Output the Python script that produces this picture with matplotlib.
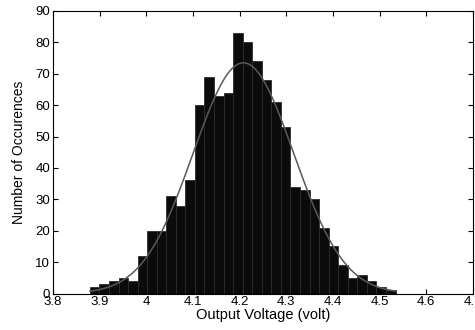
import matplotlib
matplotlib.use('Agg')
import matplotlib.pyplot as plt
import numpy as np

plt.rcParams['font.family'] = ['Liberation Sans', 'DejaVu Sans']

# histogram counts (1000 samples)
counts = [2, 3, 4, 5, 4, 12, 20, 20, 31, 28, 36, 60, 69, 63, 64, 83,
          80, 74, 68, 61, 53, 34, 33, 30, 21, 15, 9, 5, 6, 4, 2, 1]
bin_lo = 3.879
bin_hi = 4.534

# normal fit overlay
fit_mu = 4.208
fit_sigma = 0.108
fit_peak = 73.5

x_ticks = [3.8, 3.9, 4.0, 4.1, 4.2, 4.3, 4.4, 4.5, 4.6, 4.7]
x_ticklabels = ['3.8', '3.9', '4', '4.1', '4.2', '4.3', '4.4', '4.5', '4.6', '4.7']
y_ticks = list(range(0, 91, 10))

edges = np.linspace(bin_lo, bin_hi, len(counts) + 1)
width = edges[1] - edges[0]

xfit = np.linspace(bin_lo, bin_hi, 300)
yfit = fit_peak * np.exp(-(xfit - fit_mu)**2 / (2 * fit_sigma**2))

fig = plt.figure(figsize=(4.75, 3.3), dpi=100)
ax = fig.add_axes([0.1116, 0.1106, 0.8842, 0.8561])

ax.bar(edges[:-1], counts, width=width, align='edge',
       facecolor='#0b0b0b', edgecolor='#2c2c2c', linewidth=0.6, zorder=1)
ax.plot(xfit, yfit, color='#5a5a5a', linewidth=1.1, zorder=2)

ax.set_xlim(3.8, 4.7)
ax.set_ylim(0, 90)
ax.set_xticks(x_ticks)
ax.set_xticklabels(x_ticklabels)
ax.set_yticks(y_ticks)
ax.tick_params(direction='in', length=3.5, width=0.8, labelsize=9.5,
               top=True, right=True, pad=2)
for s in ax.spines.values():
    s.set_linewidth(0.8)

ax.set_xlabel('Output Voltage (volt)', fontsize=10.5, labelpad=0)
ax.set_ylabel('Number of Occurences', fontsize=10, labelpad=7)

fig.savefig('out.png', dpi=100)
